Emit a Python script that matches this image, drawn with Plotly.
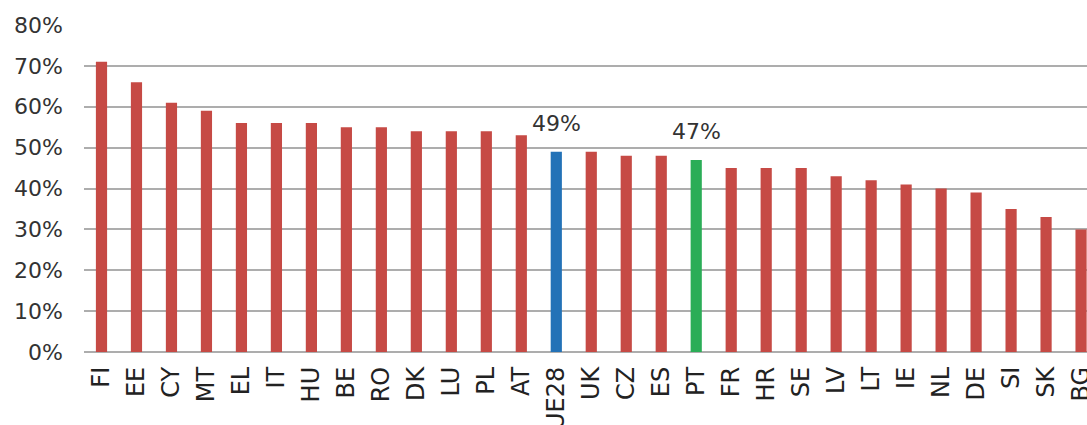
import plotly.graph_objects as go

# share of population, by country
countries = ["FI", "EE", "CY", "MT", "EL", "IT", "HU", "BE", "RO", "DK", "LU", "PL", "AT", "UE28",
             "UK", "CZ", "ES", "PT", "FR", "HR", "SE", "LV", "LT", "IE", "NL", "DE", "SI", "SK", "BG"]
values = [71, 66, 61, 59, 56, 56, 56, 55, 55, 54, 54, 54, 53, 49,
          49, 48, 48, 47, 45, 45, 45, 43, 42, 41, 40, 39, 35, 33, 30]
highlight = {"UE28": "#2372B7", "PT": "#2BAD57"}
labelled = ["UE28", "PT"]
yticks = [0, 10, 20, 30, 40, 50, 60, 70, 80]

RED = "#C64A45"
FONT = "DejaVu Sans"

colors = [highlight.get(c, RED) for c in countries]

fig = go.Figure()
fig.add_trace(go.Bar(x=countries, y=values, marker_color=colors, width=0.32,
                     marker_line_width=0, showlegend=False))

for c in labelled:
    v = values[countries.index(c)]
    fig.add_annotation(x=c, y=v, text=f"{v}%", showarrow=False, yanchor="bottom",
                       yshift=14, font=dict(family=FONT, size=22, color="#333333"))

fig.update_layout(
    width=1087, height=425,
    margin=dict(l=84, r=0, t=25, b=73, autoexpand=False),
    paper_bgcolor="white", plot_bgcolor="white",
    font=dict(family=FONT, size=22, color="#333333"),
)
fig.update_xaxes(type="category", range=[-0.5, 28.17], tickangle=-90, automargin=False,
                 showgrid=False, showline=False, ticks="", ticklabelstandoff=9,
                 tickfont=dict(family=FONT, size=24, color="#222222"))
fig.update_yaxes(range=[0, 80], tickvals=yticks, ticktext=[f"{t}%" for t in yticks],
                 automargin=False,
                 showgrid=True, gridcolor="#ADADAD", gridwidth=1.5,
                 zeroline=True, zerolinecolor="#ADADAD", zerolinewidth=2,
                 showline=False, ticks="", ticklabelstandoff=20,
                 tickfont=dict(family=FONT, size=22, color="#333333"))

# page body has a default 8px margin; drop it so the chart fills the window
fig.write_html("out.html", config={"displayModeBar": False},
               post_script="document.body.style.margin='0';document.body.style.overflow='hidden';")
